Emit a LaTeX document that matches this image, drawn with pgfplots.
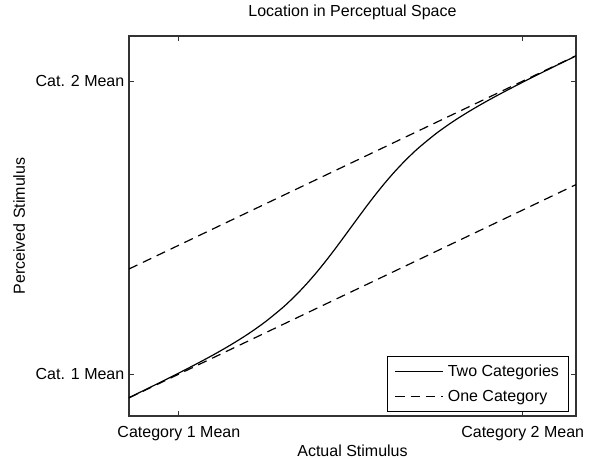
\documentclass[border=0pt]{standalone}
\usepackage{fontspec}
\setmainfont{Liberation Sans}
\usepackage{pgfplots}
\pgfplotsset{compat=1.18}
\usepackage{pgfplotstable}

% perceived location, two-category model
\pgfplotstableread{
x y
-0.15 -0.0831
-0.10 -0.0546
-0.05 -0.0257
0.00 0.0037
0.05 0.0340
0.10 0.0655
0.15 0.0992
0.20 0.1359
0.25 0.1772
0.30 0.2250
0.325 0.2519
0.35 0.2811
0.375 0.3126
0.40 0.3465
0.425 0.3826
0.45 0.4206
0.475 0.4600
0.50 0.5000
0.525 0.5400
0.55 0.5794
0.575 0.6174
0.60 0.6535
0.625 0.6874
0.65 0.7189
0.675 0.7481
0.70 0.7750
0.75 0.8228
0.80 0.8641
0.85 0.9008
0.90 0.9345
0.95 0.9660
1.00 0.9963
1.05 1.0257
1.10 1.0546
1.15 1.0831
}\twocat

\begin{document}
\begin{tikzpicture}[font=\fontsize{12}{14.4}\selectfont]
\useasboundingbox (-96.75pt,-31.5pt) rectangle (346.5pt,312pt);
\begin{axis}[
  scale only axis,
  width=335.25pt, height=285pt,
  xmin=-0.145, xmax=1.155,
  ymin=-0.143, ymax=1.154,
  xtick={0,1}, ytick={0,1},
  xticklabels={Category 1 Mean, Category 2 Mean},
  yticklabels={Cat. 1 Mean, Cat. 2 Mean},
  tick align=inside,
  major tick length=4pt,
  tick style={black!80, line width=0.6pt},
  axis line style={black!80, line width=1.2pt},
  xticklabel style={anchor=base, yshift=-15.75pt},
  title={Location in Perceptual Space},
  title style={at={(axis description cs:0.5,1)}, anchor=base, yshift=9pt},
  xlabel={Actual Stimulus},
  xlabel style={at={(axis description cs:0.5,-0.1053)}, anchor=base},
  ylabel={Perceived Stimulus},
  ylabel style={at={(axis description cs:-0.2327,0.5)}, anchor=base, rotate=0},
  legend image code/.code={\draw[#1] (0pt,0pt) -- (36pt,0pt);},
  legend style={at={(axis description cs:0.984,0.0105)}, anchor=south east,
    draw=black, line width=0.8pt, inner xsep=5pt, inner ysep=4pt,
    row sep=5pt, column sep=1pt, cells={anchor=west},
    font=\fontsize{12}{14.4}\selectfont},
  legend cell align=left,
]
\addplot[black, line width=0.9pt, smooth] table[x=x, y=y] {\twocat};
\addlegendentry{Two Categories}
\addplot[black, line width=0.9pt, dash pattern=on 7pt off 4.5pt] coordinates {(-0.145,0.3588) (1.155,1.0868)};
\addlegendentry{One Category}
\addplot[black, line width=0.9pt, dash pattern=on 7pt off 4.5pt, forget plot] coordinates {(-0.145,-0.0812) (1.155,0.6468)};
\end{axis}
\end{tikzpicture}
\end{document}
